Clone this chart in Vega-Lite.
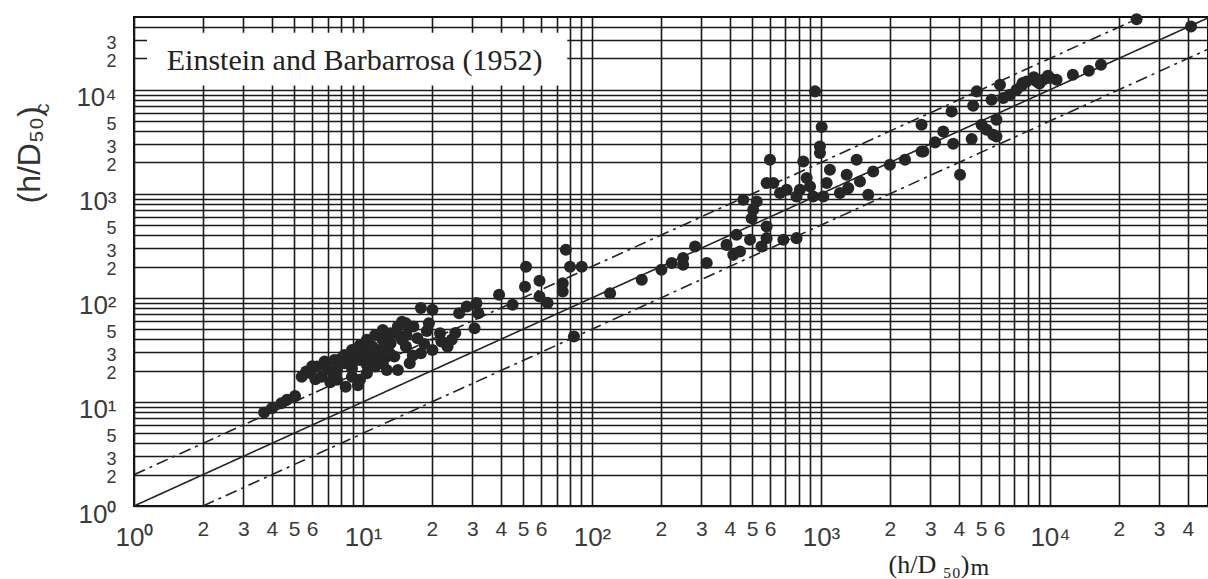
{
  "$schema": "https://vega.github.io/schema/vega-lite/v6.json",
  "width": 1074,
  "height": 489,
  "autosize": "none",
  "padding": {"left": 134, "top": 17, "right": 0, "bottom": 73},
  "background": "white",
  "config": {
    "view": {"stroke": "#111", "strokeWidth": 2},
    "axis": {"labelOverlap": false, "labelFlush": false, "labelBound": false}
  },
  "datasets": {
    "pts": [
      {"x":3.7,"y":7.9},{"x":4.0,"y":8.7},{"x":4.4,"y":9.7},{"x":4.66,"y":10.5},{"x":5.05,"y":11.4},
      {"x":5.4,"y":17.5},{"x":5.65,"y":19.6},{"x":5.9,"y":18.9},{"x":6.0,"y":22},{"x":6.2,"y":16.5},{"x":6.3,"y":21.9},{"x":6.6,"y":17.5},{"x":6.8,"y":24.4},{"x":7.0,"y":21},{"x":7.2,"y":15.5},{"x":7.4,"y":18.9},{"x":7.5,"y":25.3},{"x":7.7,"y":16.3},{"x":7.7,"y":20.3},{"x":8.0,"y":26},{"x":8.3,"y":28.3},{"x":8.3,"y":23.5},{"x":8.4,"y":14},{"x":8.95,"y":31.6},{"x":8.95,"y":21.1},{"x":8.95,"y":17.5},{"x":9.0,"y":24},{"x":9.2,"y":28},{"x":9.5,"y":14.5},{"x":9.7,"y":35.3},{"x":9.7,"y":25.3},{"x":9.7,"y":16.3},{"x":10,"y":32},{"x":10.4,"y":39.5},{"x":10.4,"y":27.3},{"x":10.4,"y":22.7},{"x":10.4,"y":18.9},{"x":10.8,"y":25},{"x":11,"y":34},{"x":11.3,"y":44},{"x":11.3,"y":29.4},{"x":11.3,"y":21.9},{"x":11.8,"y":26},{"x":12,"y":42},{"x":12.2,"y":49},{"x":12.2,"y":39.5},{"x":12.2,"y":32.8},{"x":12.2,"y":23.5},{"x":12.7,"y":27.3},{"x":12.7,"y":20.3},{"x":13,"y":30},{"x":13.2,"y":45.7},{"x":13.2,"y":36.6},{"x":13.7,"y":27.3},{"x":14,"y":46},{"x":14.2,"y":53},{"x":14.2,"y":20.3},{"x":14.8,"y":59},{"x":14.8,"y":39.5},{"x":15.4,"y":57},{"x":15.4,"y":34},{"x":15.5,"y":44},{"x":16,"y":23.5},{"x":16.5,"y":28},{"x":16.6,"y":53},{"x":17.3,"y":41},{"x":17.9,"y":80},{"x":17.9,"y":29.4},{"x":18.5,"y":36},{"x":19,"y":48},{"x":19.4,"y":57},{"x":20.1,"y":76.7},{"x":20.1,"y":31.6},{"x":21.7,"y":45.8},{"x":22,"y":38},{"x":23.4,"y":34},{"x":24.4,"y":39.5},{"x":25.3,"y":46},{"x":26.3,"y":71},{"x":28.4,"y":82.6},{"x":30.7,"y":51},{"x":31.3,"y":89},{"x":31.9,"y":71},{"x":39.3,"y":107},{"x":45,"y":86},{"x":51,"y":128},{"x":51.5,"y":199},{"x":59,"y":146},{"x":59,"y":103},{"x":64,"y":89.5},{"x":74.5,"y":138},{"x":74.5,"y":115},{"x":76.9,"y":290},{"x":80.2,"y":199},{"x":90.2,"y":199},{"x":83.4,"y":42.5},
      {"x":120,"y":111},{"x":165,"y":149},{"x":201,"y":186},{"x":223,"y":216},{"x":250,"y":241},{"x":250,"y":208},{"x":282,"y":311},{"x":317,"y":216},{"x":387,"y":323},{"x":414,"y":259},{"x":443,"y":279},{"x":428,"y":404},{"x":490,"y":361},{"x":550,"y":311},{"x":579,"y":375},{"x":579,"y":485},{"x":685,"y":361},{"x":782,"y":375},{"x":498,"y":583},{"x":506,"y":702},{"x":458,"y":875},{"x":524,"y":843},{"x":579,"y":1268},{"x":620,"y":1268},{"x":662,"y":1016},{"x":599,"y":2123},{"x":708,"y":1092},{"x":782,"y":942},{"x":809,"y":1092},{"x":837,"y":2046},{"x":866,"y":1415},{"x":896,"y":1178},{"x":925,"y":942},{"x":990,"y":2461},{"x":990,"y":2850},{"x":1007,"y":4375},{"x":942,"y":9640},{"x":1024,"y":942},{"x":1059,"y":1268},{"x":1094,"y":1702},{"x":1210,"y":1016},{"x":1295,"y":1524},{"x":1316,"y":1134},{"x":1431,"y":2123},{"x":1480,"y":1315},{"x":1609,"y":978},{"x":1691,"y":1640},{"x":2000,"y":1900},{"x":2328,"y":2123},{"x":2800,"y":2552},{"x":4050,"y":1524},
      {"x":2750,"y":4605},{"x":2750,"y":2552},{"x":3420,"y":3970},{"x":3150,"y":3120},{"x":3780,"y":3025},{"x":3720,"y":6180},{"x":4550,"y":3360},{"x":4790,"y":9640},{"x":4620,"y":7020},{"x":5030,"y":4605},{"x":5290,"y":4120},{"x":5650,"y":3690},{"x":5840,"y":3560},{"x":5840,"y":5150},{"x":5560,"y":8010},{"x":6050,"y":11170},{"x":6250,"y":8320},{"x":6680,"y":8950},{"x":7150,"y":10000},{"x":7520,"y":10920},{"x":7600,"y":11600},{"x":7910,"y":12020},{"x":8500,"y":13200},{"x":8750,"y":12020},{"x":9000,"y":11500},{"x":9350,"y":12480},{"x":9800,"y":13600},{"x":10000,"y":12950},{"x":10690,"y":12480},{"x":12590,"y":13930},{"x":14790,"y":15230},{"x":16700,"y":17400},{"x":23900,"y":47500},{"x":41300,"y":40600}
    ],
    "refl": [
      {"k":"a","x":1,"y":1},{"k":"a","x":49000,"y":49000},
      {"k":"b","x":1,"y":2},{"k":"b","x":25000,"y":50000},
      {"k":"c","x":2,"y":1},{"k":"c","x":49000,"y":24500}
    ],
    "note": [
      {"x1":1.14,"x2":78,"y1":11000,"y2":35300,"tx":1.39,"ty":15500,"label":"Einstein and Barbarrosa (1952)"}
    ]
  },
  "layer": [
    {
      "data": {"name": "pts"},
      "mark": {"type": "point", "filled": true, "shape": "circle", "size": 145, "color": "#262626", "opacity": 1},
      "encoding": {
        "x": {
          "field": "x", "type": "quantitative",
          "scale": {"type": "log", "domain": [1, 49000], "nice": false, "zero": false},
          "axis": {
            "values": [1,2,3,4,5,6,7,8,9,10,20,30,40,50,60,70,80,90,100,200,300,400,500,600,700,800,900,1000,2000,3000,4000,5000,6000,7000,8000,9000,10000,20000,30000,40000],
            "grid": true, "ticks": false, "domain": false,
            "gridColor": "#1a1a1a", "gridWidth": 1.6, "gridOpacity": 1,
            "labelExpr": "indexof([1,10,100,1000,10000],datum.value)>=0 ? '10'+['⁰','¹','²','³','⁴'][indexof([1,10,100,1000,10000],datum.value)] : (indexof(['2','3','4','5','6'],substring(toString(datum.value),0,1))>=0 ? substring(toString(datum.value),0,1) : '')",
            "labelFont": "Liberation Sans",
            "labelFontSize": {"condition": {"test": "indexof([1,10,100,1000,10000],datum.value)>=0", "value": 26}, "value": 21},
            "labelPadding": {"condition": {"test": "indexof([1,10,100,1000,10000],datum.value)>=0", "value": 18}, "value": 12},
            "labelColor": "#3a3a3a",
            "title": "(h/D ₅₀)",
            "titleFont": "Liberation Serif", "titleFontSize": 26, "titleFontWeight": "normal", "titleColor": "#222",
            "titleX": 754, "titleY": 66, "titleAlign": "left", "titleBaseline": "alphabetic"
          }
        },
        "y": {
          "field": "y", "type": "quantitative",
          "scale": {"type": "log", "domain": [1, 50000], "nice": false, "zero": false},
          "axis": {
            "values": [1,2,3,4,5,6,7,8,9,10,20,30,40,50,60,70,80,90,100,200,300,400,500,600,700,800,900,1000,2000,3000,4000,5000,6000,7000,8000,9000,10000,20000,30000,40000],
            "grid": true, "ticks": false, "domain": false,
            "gridColor": "#1a1a1a", "gridWidth": 1.6, "gridOpacity": 1,
            "labelExpr": "indexof([1,10,100,1000,10000],datum.value)>=0 ? '10'+['⁰','¹','²','³','⁴'][indexof([1,10,100,1000,10000],datum.value)] : (indexof(['2','3','5'],substring(toString(datum.value),0,1))>=0 ? substring(toString(datum.value),0,1) : '')",
            "labelFont": "Liberation Sans",
            "labelFontSize": {"condition": {"test": "indexof([1,10,100,1000,10000],datum.value)>=0", "value": 26}, "value": 18},
            "labelOffset": {"condition": {"test": "indexof([1,10,100,1000,10000],datum.value)>=0", "value": 8}, "value": 3},
            "labelPadding": 18,
            "labelBaseline": "middle",
            "labelColor": "#3a3a3a",
            "title": "(h/D₅₀)",
            "titleFont": "Liberation Sans", "titleFontSize": 32, "titleFontWeight": "normal", "titleColor": "#333",
            "titleAngle": -90,
            "titleX": -95, "titleY": 186, "titleAlign": "left", "titleBaseline": "alphabetic"
          }
        }
      }
    },
    {
      "data": {"name": "refl"},
      "mark": {"type": "line", "clip": true, "strokeWidth": 1.6, "color": "#222"},
      "encoding": {
        "x": {
          "field": "x", "type": "quantitative",
          "scale": {"type": "log", "domain": [1, 49000], "nice": false, "zero": false},
          "axis": {"orient": "bottom", "labels": false, "ticks": false, "domain": false, "grid": false,
            "title": "m", "titleFont": "Liberation Serif", "titleFontSize": 24, "titleFontWeight": "normal", "titleColor": "#222",
            "titleX": 836, "titleY": 68, "titleAlign": "left", "titleBaseline": "alphabetic"}
        },
        "y": {
          "field": "y", "type": "quantitative",
          "scale": {"type": "log", "domain": [1, 50000], "nice": false, "zero": false},
          "axis": {"orient": "left", "labels": false, "ticks": false, "domain": false, "grid": false,
            "title": "c", "titleFont": "Liberation Sans", "titleFontSize": 20, "titleFontWeight": "normal", "titleColor": "#333",
            "titleAngle": -90,
            "titleX": -86, "titleY": 96, "titleAlign": "left", "titleBaseline": "alphabetic"}
        },
        "detail": {"field": "k"},
        "strokeDash": {
          "field": "k", "type": "nominal",
          "scale": {"domain": ["a", "b", "c"], "range": [[1, 0], [12, 5, 3, 5], [12, 5, 3, 5]]},
          "legend": null
        }
      }
    },
    {
      "data": {"name": "note"},
      "mark": {"type": "rect", "fill": "white", "stroke": null},
      "encoding": {
        "x": {"field": "x1", "type": "quantitative", "axis": null},
        "x2": {"field": "x2"},
        "y": {"field": "y1", "type": "quantitative", "axis": null},
        "y2": {"field": "y2"}
      }
    },
    {
      "data": {"name": "note"},
      "mark": {"type": "text", "align": "left", "baseline": "alphabetic", "font": "Liberation Serif", "fontSize": 30, "color": "#222"},
      "encoding": {
        "x": {"field": "tx", "type": "quantitative", "axis": null},
        "y": {"field": "ty", "type": "quantitative", "axis": null},
        "text": {"field": "label"}
      }
    }
  ],
  "resolve": {"axis": {"x": "independent", "y": "independent"}}
}
